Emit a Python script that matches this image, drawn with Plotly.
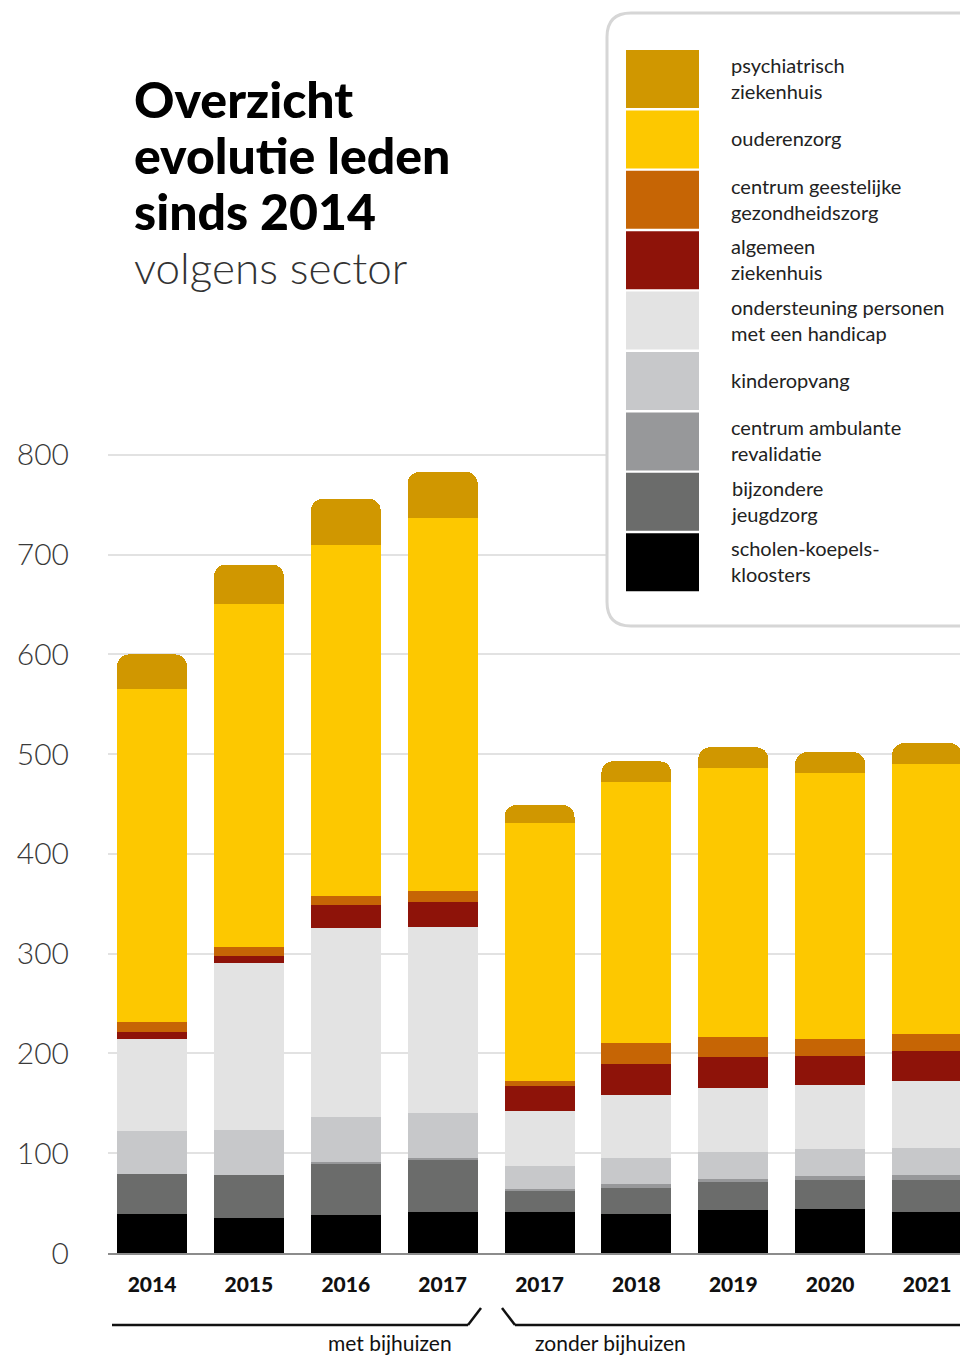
import plotly.graph_objects as go

# ---------------- data ----------------
categories = ["2014", "2015", "2016", "2017", "2017", "2018", "2019", "2020", "2021"]

scholen = [39, 35, 38, 41, 41, 39, 43, 44, 41]
bijzondere_jeugdzorg = [40, 43, 52, 53, 21, 26, 28, 29, 32]
ambulante_revalidatie = [0, 0, 1, 1, 2, 4, 3, 4, 5]
kinderopvang = [43, 45, 45, 45, 23, 26, 27, 27, 27]
ondersteuning = [93, 168, 190, 187, 55, 63, 64, 64, 67]
algemeen_ziekenhuis = [7, 7, 23, 25, 25, 31, 31, 29, 30]
cgg = [10, 9, 9, 11, 5, 21, 21, 18, 18]
ouderenzorg = [333, 344, 352, 374, 259, 262, 269, 266, 270]
psychiatrisch = [35, 39, 46, 46, 18, 21, 21, 21, 21]

y_ticks = [0, 100, 200, 300, 400, 500, 600, 700, 800]

# (bottom -> top) name, values, colour, legend label
series = [
    ("scholen-koepels-kloosters", scholen, "#000000", "scholen-koepels-<br>kloosters"),
    ("bijzondere jeugdzorg", bijzondere_jeugdzorg, "#6B6C6B", "bijzondere<br>jeugdzorg"),
    ("centrum ambulante revalidatie", ambulante_revalidatie, "#97989A", "centrum ambulante<br>revalidatie"),
    ("kinderopvang", kinderopvang, "#C7C8CA", "kinderopvang"),
    ("ondersteuning personen met een handicap", ondersteuning, "#E3E3E3", "ondersteuning personen<br>met een handicap"),
    ("algemeen ziekenhuis", algemeen_ziekenhuis, "#8E1309", "algemeen<br>ziekenhuis"),
    ("centrum geestelijke gezondheidszorg", cgg, "#C66505", "centrum geestelijke<br>gezondheidszorg"),
    ("ouderenzorg", ouderenzorg, "#FDC800", "ouderenzorg"),
    ("psychiatrisch ziekenhuis", psychiatrisch, "#D09700", "psychiatrisch<br>ziekenhuis"),
]

# ---------------- layout geometry (page pixels) ----------------
W, H = 960, 1355
page_left, page_right, page_top, page_bottom = 108, 960, 405, 1253
L = page_left
T = page_top
R = W - page_right
B = H - page_bottom
PW = page_right - page_left
PH = page_bottom - page_top


def px(x):
    return (x - page_left) / PW


def py(y):
    return (page_bottom - y) / PH


xs = list(range(len(categories)))

fig = go.Figure()
for name, vals, col, _ in series:
    fig.add_trace(go.Bar(
        x=xs, y=vals, name=name, width=0.723,
        marker=dict(color=col, line=dict(width=0)),
        showlegend=False,
        hovertemplate=name + ": %{y}<extra></extra>",
    ))

fig.update_layout(
    width=W, height=H,
    margin=dict(l=L, r=R, t=T, b=B, pad=0),
    paper_bgcolor="white", plot_bgcolor="white",
    barmode="stack", barcornerradius=12,
    showlegend=False,
    font=dict(family="Lato", color="#222222"),
)

fig.update_xaxes(
    range=[-0.454, 8.34],
    tickvals=xs, ticktext=categories,
    tickfont=dict(family="Lato", size=21, color="#111111", weight=900),
    showgrid=False, zeroline=False,
    showline=True, linecolor="#8C8C8C", linewidth=2,
    ticks="", ticklabelstandoff=12,
)
fig.update_yaxes(
    range=[0, 850],
    tickvals=y_ticks, ticktext=[str(v) for v in y_ticks],
    tickfont=dict(family="Lato", size=30, color="#3A3A3A", weight=300),
    showgrid=True, gridcolor="#E2E2E2", gridwidth=2,
    zeroline=False, showline=False, ticks="", ticklabelstandoff=38,
)

shapes = []
annotations = []

# ---------------- legend box ----------------
bx0, by0, bx1, by1, rr = 607, 13, 985, 626, 24
path = (
    f"M {px(bx0 + rr)},{py(by0)} L {px(bx1)},{py(by0)} L {px(bx1)},{py(by1)} "
    f"L {px(bx0 + rr)},{py(by1)} Q {px(bx0)},{py(by1)} {px(bx0)},{py(by1 - rr)} "
    f"L {px(bx0)},{py(by0 + rr)} Q {px(bx0)},{py(by0)} {px(bx0 + rr)},{py(by0)} Z"
)
shapes.append(dict(type="path", xref="paper", yref="paper", path=path,
                   fillcolor="white", line=dict(color="#D6D6D6", width=3), layer="above"))

sw_top0, sw_pitch, sw_h = 50, 60.4, 58
for i, (name, vals, col, label) in enumerate(reversed(series)):
    top = sw_top0 + i * sw_pitch
    shapes.append(dict(type="rect", xref="paper", yref="paper",
                       x0=px(626), x1=px(699), y0=py(top), y1=py(top + sw_h),
                       fillcolor=col, line=dict(width=0), layer="above"))
    annotations.append(dict(xref="paper", yref="paper", x=px(729), y=py(top + sw_h / 2 - 1),
                            xanchor="left", yanchor="middle", align="left", showarrow=False,
                            text=label, font=dict(family="Lato", size=20, color="#222222")))

# ---------------- title ----------------
for txt, yc in [("Overzicht", 99), ("evolutie leden", 155), ("sinds 2014", 211)]:
    annotations.append(dict(xref="paper", yref="paper", x=px(132), y=py(yc),
                            xanchor="left", yanchor="middle", showarrow=False, text=txt,
                            font=dict(family="Lato", size=50, color="#000000", weight=900)))
annotations.append(dict(xref="paper", yref="paper", x=px(132), y=py(267),
                        xanchor="left", yanchor="middle", showarrow=False, text="volgens sector",
                        font=dict(family="Lato", size=44, color="#333333", weight=300)))

# ---------------- group brackets ----------------
blk = dict(color="#111111", width=2.5)
for (x0, y0, x1, y1) in [(112, 1325, 468, 1325), (468, 1325, 481, 1308),
                         (502, 1308, 515, 1325), (515, 1325, 970, 1325)]:
    shapes.append(dict(type="line", xref="paper", yref="paper",
                       x0=px(x0), y0=py(y0), x1=px(x1), y1=py(y1), line=blk))
annotations.append(dict(xref="paper", yref="paper", x=px(390), y=py(1342),
                        xanchor="center", yanchor="middle", showarrow=False, text="met bijhuizen",
                        font=dict(family="Lato", size=21, color="#111111")))
annotations.append(dict(xref="paper", yref="paper", x=px(610), y=py(1342),
                        xanchor="center", yanchor="middle", showarrow=False, text="zonder bijhuizen",
                        font=dict(family="Lato", size=21, color="#111111")))

fig.update_layout(shapes=shapes, annotations=annotations)

fig.write_html("out.html",
               config={"displayModeBar": False},
               post_script="document.body.style.margin='0';document.body.style.overflow='hidden';")
